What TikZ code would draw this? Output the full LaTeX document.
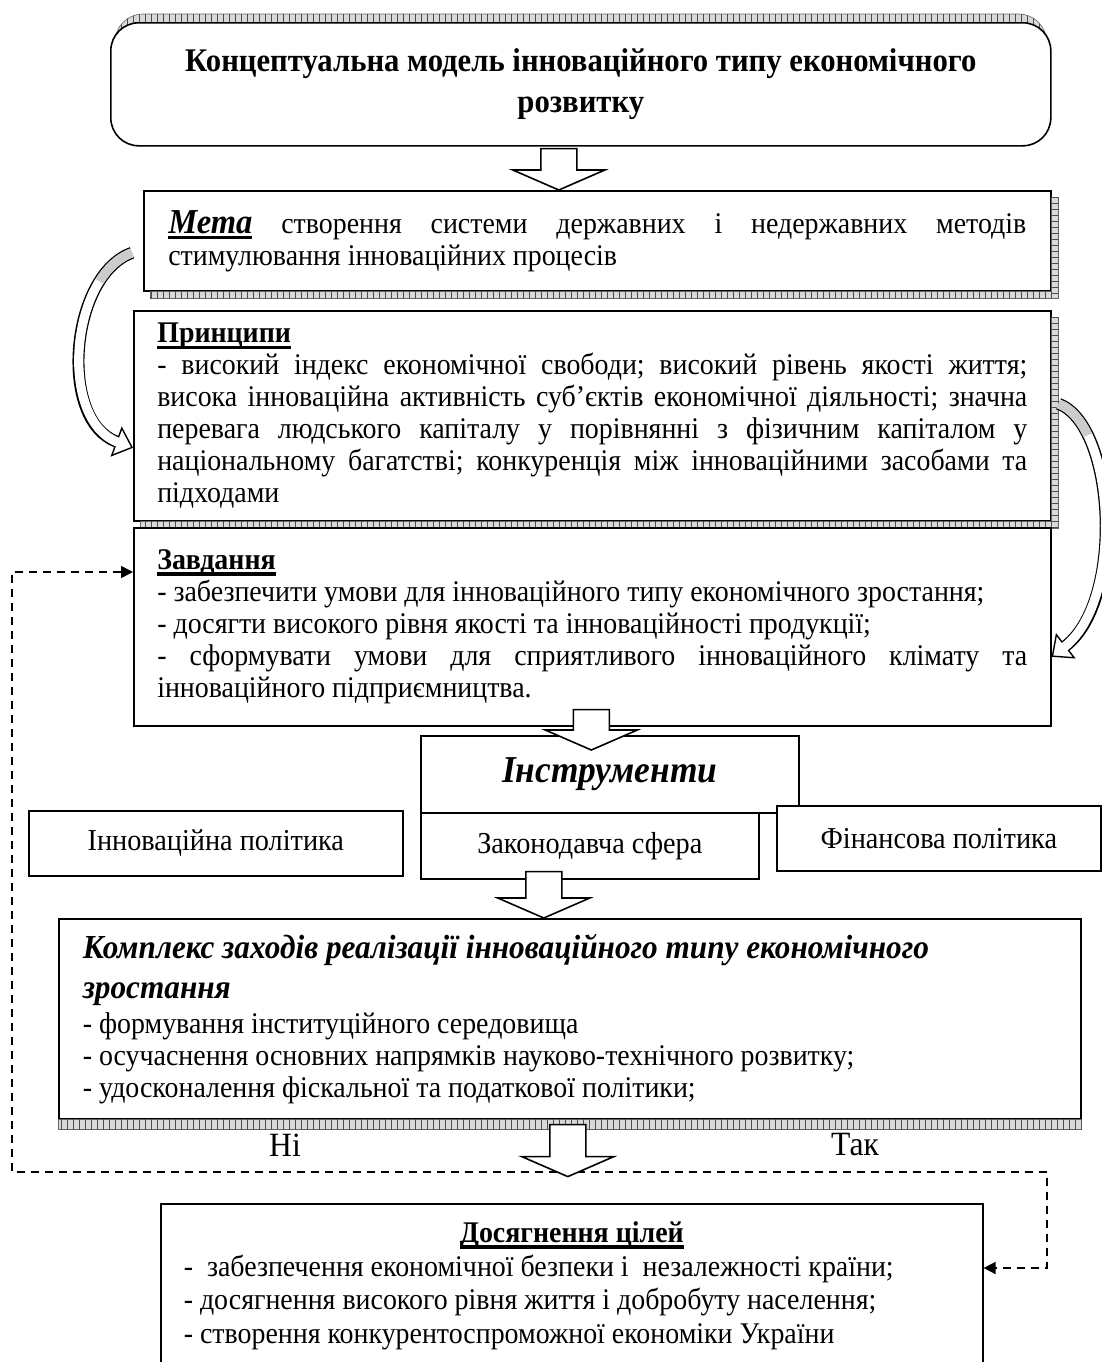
\documentclass[tikz,border=0pt]{standalone}
\usepackage{fontspec}
\setmainfont{Liberation Serif}[FakeStretch=0.93]
\usetikzlibrary{calc,arrows.meta,patterns,backgrounds}

\setlength\parindent{0pt}
\frenchspacing
\hyphenpenalty=10000
\exhyphenpenalty=10000
\tolerance=9999
\emergencystretch=2em

\newcommand\thickul[1]{\leavevmode\setbox0\hbox{#1}\rlap{\rule[-3pt]{\wd0}{1.6pt}}\box0\relax}
\newcommand\blockdown[2]{\draw[bigarrow] let \p1=#1, \p2=#2 in
  ({\x2-9pt},{\y1}) -- ({\x2-9pt},{\y2+10pt}) -- ({\x2-23pt},{\y2+10pt}) -- ({\x2},{\y2})
  -- ({\x2+23pt},{\y2+10pt}) -- ({\x2+9pt},{\y2+10pt}) -- ({\x2+9pt},{\y1}) -- cycle;}

\tikzset{
  plainbox/.style={draw, line width=0.8pt, fill=white, anchor=north west, inner sep=0pt, font=\fontsize{15}{16}\selectfont},
  hatchx/.style={draw=black!60, line width=0.3pt, fill=gray!30, postaction={pattern=vertical lines, pattern color=black!70}},
  hatchy/.style={draw=black!60, line width=0.3pt, fill=gray!30, postaction={pattern=horizontal lines, pattern color=black!70}},
  bigarrow/.style={draw, fill=white, line width=0.8pt},
  ribbon/.style={line width=6pt, -{Triangle[fill=white, length=9pt, width=16pt, line width=0.7pt]},
    postaction={draw=white, line width=4.6pt, -, shorten >=8pt},
    postaction={draw=gray!40, line width=4.6pt, -, dash pattern=on 22pt off 2000pt}},
  loopline/.style={line width=0.8pt, dash pattern=on 4pt off 3pt, {Triangle[length=6pt, width=6pt]}-{Triangle[length=6pt, width=6pt]}}
}

\begin{document}
\begin{tikzpicture}[x=0.5pt, y=-0.5pt]
\def\sd{7}
\useasboundingbox (0,0) rectangle (1102,1362);

\node[plainbox, rounded corners=14pt, align=center, minimum width=470pt, minimum height=61.5pt, font=\fontsize{16.5}{20.5}\selectfont\bfseries] (title) at (110,22) {Концептуальна модель інноваційного типу економічного\\розвитку};
\begin{scope}[on background layer]
\fill[hatchx, rounded corners=14pt] ($(title.north west)+(5,-8)$) rectangle ($(title.south east)+(-5,-8)$);
\end{scope}

\node[plainbox, align=justify, text width=429pt, inner xsep=12pt, minimum width=453.5pt, minimum height=50pt] (meta) at (143,190) {\thickul{\fontsize{17.5}{16}\selectfont\textbf{\textit{Мета}}} створення системи державних і недержавних методів\linebreak стимулювання інноваційних процесів};
\fill[hatchy] ($(meta.north east)+(0,\sd)$) rectangle ($(meta.south east)+(\sd,\sd)$);
\fill[hatchx] ($(meta.south west)+(\sd,0)$) rectangle ($(meta.south east)+(0,\sd)$);

\node[plainbox, align=justify, text width=435pt, inner xsep=11pt, minimum width=458.5pt, minimum height=105pt] (prin) at (133,310) {\thickul{\textbf{Принципи}}\par
- високий індекс економічної свободи; високий рівень якості життя;\linebreak
висока інноваційна активність суб’єктів економічної діяльності; значна\linebreak
перевага людського капіталу у порівнянні з фізичним капіталом у\linebreak
національному багатстві; конкуренція між інноваційними засобами та\linebreak
підходами};
\fill[hatchy] ($(prin.north east)+(0,\sd)$) rectangle ($(prin.south east)+(\sd,\sd)$);
\fill[hatchx] ($(prin.south west)+(\sd,0)$) rectangle ($(prin.south east)+(0,\sd)$);

\node[plainbox, align=justify, text width=435pt, inner xsep=11pt, minimum width=458.5pt, minimum height=99pt] (zav) at (133,527) {\thickul{\textbf{Завдання}}\par
- забезпечити умови для інноваційного типу економічного зростання;\par
- досягти високого рівня якості та інноваційності продукції;\par
- сформувати умови для сприятливого інноваційного клімату та\linebreak
інноваційного підприємництва.};

\node[plainbox, minimum width=189pt, minimum height=38.5pt, font=\fontsize{19}{22}\selectfont\bfseries\itshape] (instr) at (420,735) {Інструменти};
\node[plainbox, minimum width=187pt, minimum height=32.5pt, font=\fontsize{15.2}{18}\selectfont] (innov) at (28,810) {Інноваційна політика};
\node[plainbox, minimum width=169pt, minimum height=33pt, font=\fontsize{15.2}{18}\selectfont] (zakon) at (420,812) {Законодавча сфера};
\node[plainbox, minimum width=162pt, minimum height=32.5pt, font=\fontsize{15.2}{18}\selectfont] (fin) at (776,805) {Фінансова політика};

\node[plainbox, align=flush left, text width=487pt, inner xsep=12pt, minimum width=511pt, minimum height=100pt] (kompl) at (58,918) {{\fontsize{16.8}{20}\selectfont\bfseries\itshape Комплекс заходів реалізації інноваційного типу економічного\newline зростання\par}
\vspace{1.5pt}- формування інституційного середовища\par
- осучаснення основних напрямків науково-технічного розвитку;\par
- удосконалення фіскальної та податкової політики;};
\fill[hatchx] (kompl.south west) rectangle ($(kompl.south east)+(0,10)$);

\node[font=\fontsize{17}{20}\selectfont] (no) at (285,1145) {Ні};
\node[font=\fontsize{17}{20}\selectfont] (yes) at (855,1145) {Так};

\node[plainbox, inner xsep=11.5pt] (dos) at (160,1203) {\parbox[t][88pt][t]{388pt}{\fontsize{15}{16.75}\selectfont\vspace*{9pt}\centering\thickul{\textbf{Досягнення цілей}}\par\raggedright
-\ \ забезпечення економічної безпеки і\ \ незалежності країни;\par
- досягнення високого рівня життя і добробуту населення;\par
- створення конкурентоспроможної економіки України\par}};

\coordinate (loopL) at (12,1172);
\coordinate (loopR) at (1047,1172);
\draw[loopline] ($(zav.north west)+(0,45)$) -| (loopL) -- (loopR) |- ($(dos.north east)+(0,65)$);

\draw[ribbon] ($(meta.west)+(-11,12)$) .. controls (70,275) and (58,420) .. ($(prin.west)+(0,32)$);
\draw[ribbon] ($(prin.east)+(\sd,-12)$) .. controls (1115,425) and (1125,600) .. ($(zav.east)+(0,30)$);

\coordinate (a1) at ($(title.south)+(-22,2)$);
\blockdown{(a1)}{(a1 |- meta.north)}
\coordinate (a2) at ($(zav.south)+(-1,-17)$);
\blockdown{(a2)}{($(a2 |- instr.north)+(0,15)$)}
\coordinate (a3) at ($(zakon.south)+(-46,-8)$);
\blockdown{(a3)}{(a3 |- kompl.north)}
\coordinate (a4) at ($(kompl.south)+(-2,5)$);
\blockdown{(a4)}{($(a4)+(0,52)$)}
\end{tikzpicture}
\end{document}
